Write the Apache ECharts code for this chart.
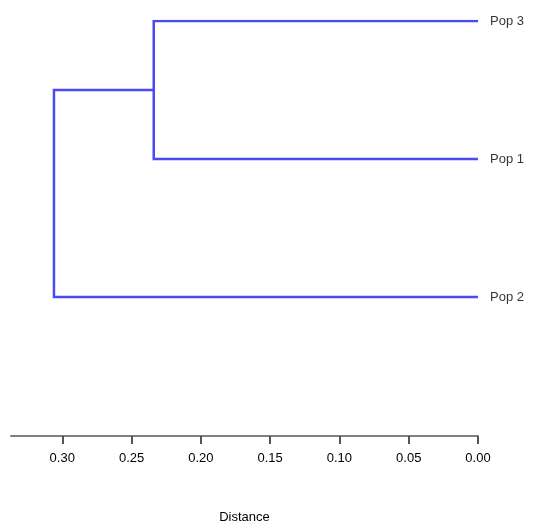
<!DOCTYPE html>
<html><head><meta charset="utf-8">
<script src="https://cdn.jsdelivr.net/npm/echarts@6/dist/echarts.min.js"></script>
<style>html,body{margin:0;padding:0;background:#fff}#c{width:539px;height:525px}</style>
</head><body><div id="c"></div>
<script>
// Leaves in display order (top to bottom)
const leafNames = ['Pop 3', 'Pop 1', 'Pop 2'];
const leafPos = [1, 2, 3];
// Merge i joins clusters mergeA[i] and mergeB[i] at mergeDist[i];
// new cluster index = number of leaves + i
const mergeA = [0, 3];
const mergeB = [1, 2];
const mergeDist = [0.234, 0.306];
const xTicks = [0, 0.05, 0.10, 0.15, 0.20, 0.25, 0.30];

const clusterY = leafPos.slice();
const clusterH = leafPos.map(() => 0);
const segData = [];
for (let i = 0; i < mergeDist.length; i++) {
  const a = mergeA[i], b = mergeB[i], h = mergeDist[i];
  const ya = clusterY[a], yb = clusterY[b];
  segData.push({ coords: [[clusterH[a], ya], [h, ya], [h, yb], [clusterH[b], yb]] });
  clusterY.push((ya + yb) / 2);
  clusterH.push(h);
}
const labelData = leafNames.map((n, i) => ({ value: [0, leafPos[i]], name: n }));

const chart = echarts.init(document.getElementById('c'));
chart.setOption({
  animation: false,
  grid: { left: 11, right: 61, top: 21, bottom: 89, containLabel: false, outerBoundsMode: 'none' },
  xAxis: {
    type: 'value', min: 0, max: 0.337, inverse: true,
    name: 'Distance', nameLocation: 'middle', nameGap: 75,
    nameTextStyle: { color: '#000', fontSize: 13, fontFamily: 'Liberation Sans' },
    splitLine: { show: false },
    axisLine: { show: true, onZero: false, lineStyle: { color: '#7f7f7f', width: 2 } },
    axisTick: { show: true, customValues: xTicks, length: 8, lineStyle: { color: '#555', width: 2 } },
    axisLabel: { customValues: xTicks, margin: 16, color: '#000', fontSize: 13, fontFamily: 'Liberation Sans',
      formatter: v => v.toFixed(2) }
  },
  yAxis: {
    type: 'value', min: 1, max: 4.007, inverse: true, show: false
  },
  series: [
    {
      type: 'lines', coordinateSystem: 'cartesian2d', polyline: true, data: segData, silent: true,
      lineStyle: { color: '#4a4af5', width: 2.5, opacity: 1 }
    },
    {
      type: 'scatter', data: labelData, symbolSize: 0, silent: true,
      label: { show: true, position: 'right', distance: 12, formatter: p => p.name,
        color: '#000', fontSize: 13, fontFamily: 'Liberation Sans' }
    }
  ]
});
</script></body></html>
